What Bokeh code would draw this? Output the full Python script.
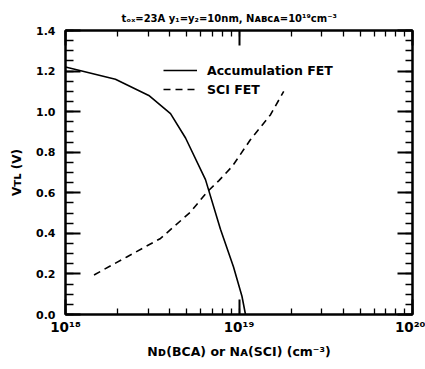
from bokeh.plotting import figure
from bokeh.models import (LogAxis, LinearAxis, LogTicker, SingleIntervalTicker,
                          CustomJSTickFormatter, Legend, LegendItem)
from bokeh.embed import file_html
from bokeh.resources import INLINE

# ---- data ----
acc_n = [1.0e18, 1.94e18, 3.02e18, 4.03e18, 4.92e18, 6.41e18, 7.82e18, 9.29e18, 1.04e19, 1.09e19]
acc_v = [1.22, 1.16, 1.08, 0.99, 0.87, 0.665, 0.42, 0.235, 0.09, 0.0]
sci_n = [1.46e18, 2.27e18, 3.53e18, 5.25e18, 6.56e18, 7.66e18, 9.14e18, 1.16e19, 1.52e19, 1.81e19]
sci_v = [0.195, 0.285, 0.375, 0.505, 0.605, 0.66, 0.73, 0.86, 0.985, 1.10]
series_names = ["Accumulation FET", "SCI FET"]
x_ticks = [1e18, 1e19, 1e20]
x_tick_labels = ["10\u00b9\u2078", "10\u00b9\u2079", "10\u00b2\u2070"]
y_ticks = [0.0, 0.2, 0.4, 0.6, 0.8, 1.0, 1.2, 1.4]
y_tick_labels = ["0.0", "0.2", "0.4", "0.6", "0.8", "1.0", "1.2", "1.4"]
title_text = "t\u2092\u2093=23A y\u2081=y\u2082=10nm, N\u1d00\u0299\u1d04\u1d00=10\u00b9\u2079cm\u207b\u00b3"
x_label = "N\u1d05(BCA) or N\u1d00(SCI) (cm\u207b\u00b3)"
y_label = "V\u1d1b\u029f (V)"

FONT = "DejaVu Sans"
FL, FR, FT, FB = 65, 412, 30, 314   # frame edges (canvas px)
W, H = 425, 369

p = figure(width=W, height=H, x_axis_type="log", x_range=(1e18, 1e20), y_range=(0, 1.4001),
           output_backend="svg", toolbar_location=None,
           min_border_left=FL, min_border_right=W - FR, min_border_top=FT,
           min_border_bottom=H - FB)
p.grid.visible = False
p.outline_line_color = "black"
p.outline_line_width = 2
p.background_fill_color = "white"
p.border_fill_color = "white"

p.title.text = title_text
p.title.text_font = FONT
p.title.text_font_style = "bold"
p.title.text_font_size = "10px"
p.title.text_color = "black"
p.title.align = "left"
p.title.offset = 121 - FL
p.title.standoff = 14

r1 = p.line(acc_n, acc_v, line_color="black", line_width=1.6)
r2 = p.line(sci_n, sci_v, line_color="black", line_width=1.6, line_dash="7 5")

xfmt = CustomJSTickFormatter(args=dict(tvals=x_ticks, tlabels=x_tick_labels), code="""
const i = tvals.findIndex(t => Math.abs(t - tick) / t < 1e-6);
return i >= 0 ? tlabels[i] : '';
""")
yfmt = CustomJSTickFormatter(args=dict(tvals=y_ticks, tlabels=y_tick_labels), code="""
const i = tvals.findIndex(t => Math.abs(t - tick) < 1e-6);
return i >= 0 ? tlabels[i] : '';
""")
blank = CustomJSTickFormatter(code="return '';")

def style(ax, major, minor):
    ax.axis_line_width = 2
    ax.axis_line_color = "black"
    ax.major_tick_in = major
    ax.major_tick_out = 0
    ax.minor_tick_in = minor
    ax.minor_tick_out = 0
    ax.major_tick_line_width = 2
    ax.minor_tick_line_width = 1.3
    ax.major_label_text_font = FONT
    ax.major_label_text_font_style = "bold"
    ax.major_label_text_color = "black"
    ax.axis_label_text_font = FONT
    ax.axis_label_text_font_style = "bold"
    ax.axis_label_text_color = "black"

xa = p.xaxis[0]
xa.ticker = LogTicker(num_minor_ticks=10)
xa.formatter = xfmt
style(xa, 15, 6)
xa.major_label_text_font_size = "13.5px"
xa.major_label_standoff = 4
xa.axis_label = x_label
xa.axis_label_text_font_size = "12.5px"
xa.axis_label_standoff = 6

ya = p.yaxis[0]
ya.ticker = SingleIntervalTicker(interval=0.2, num_minor_ticks=4)
ya.formatter = yfmt
style(ya, 15, 8)
ya.major_label_text_font_size = "11px"
ya.major_label_standoff = 10
ya.axis_label = y_label
ya.axis_label_text_font_size = "12px"
ya.axis_label_standoff = 9

top = LogAxis(ticker=LogTicker(num_minor_ticks=10), formatter=blank)
style(top, 15, 6)
top.major_label_text_font_size = "1px"
top.major_label_standoff = 0
p.add_layout(top, "above")
right = LinearAxis(ticker=SingleIntervalTicker(interval=0.2, num_minor_ticks=4), formatter=blank)
style(right, 15, 7)
right.major_label_text_font_size = "1px"
right.major_label_standoff = 0
p.add_layout(right, "right")

# ---- legend ----
legend = Legend(items=[LegendItem(label=series_names[0], renderers=[r1]),
                       LegendItem(label=series_names[1], renderers=[r2])],
                location=(163 - FL, FB - 97), orientation="vertical",
                glyph_width=34, glyph_height=16, label_height=16, spacing=3,
                label_standoff=10, padding=0, margin=0,
                border_line_color=None, background_fill_alpha=0,
                label_text_font=FONT, label_text_font_style="bold",
                label_text_font_size="12.5px", label_text_color="black")
p.add_layout(legend, "center")

open("out.html", "w").write(file_html(p, INLINE))
